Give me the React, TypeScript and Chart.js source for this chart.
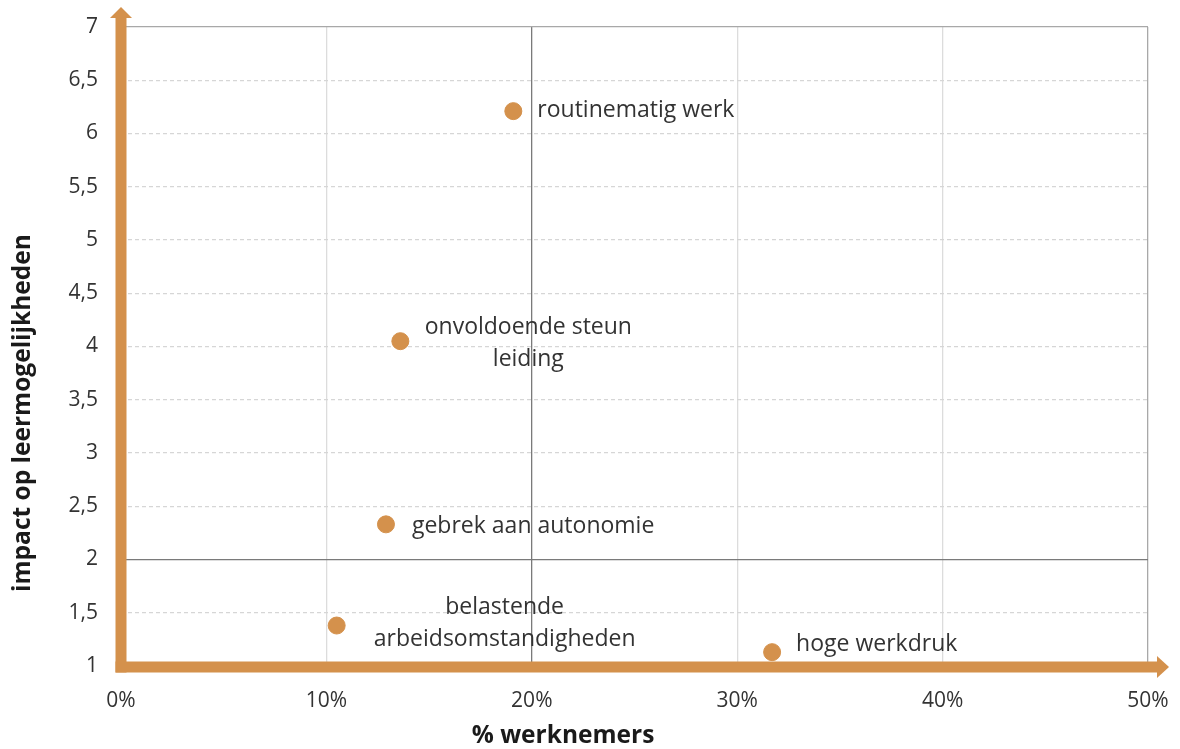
import React, { useEffect, useRef } from "react";
import { Chart, registerables } from "chart.js";

Chart.register(...registerables);

const labels: string[][] = [
  ["routinematig werk"],
  ["onvoldoende steun", "leiding"],
  ["gebrek aan autonomie"],
  ["belastende", "arbeidsomstandigheden"],
  ["hoge werkdruk"],
];
const xValues = [19.1, 13.6, 12.9, 10.5, 31.7];
const yValues = [6.21, 4.05, 2.33, 1.38, 1.13];

const xTicks = [0, 10, 20, 30, 40, 50];
const yTicks = [1, 1.5, 2, 2.5, 3, 3.5, 4, 4.5, 5, 5.5, 6, 6.5, 7];

const xTitle = "% werknemers";
const yTitle = "impact op leermogelijkheden";

// label placement (pixel offsets from point), style only
const labelStyle = [
  { dx: 24, dy: -1, align: "left" },
  { dx: 128, dy: -14, align: "center" },
  { dx: 26, dy: 2, align: "left" },
  { dx: 168, dy: -18, align: "center" },
  { dx: 24, dy: -8, align: "left" },
];

const ORANGE = "#D4914C";
const FONT = "'Open Sans', 'Noto Sans', sans-serif";

const axesPlugin = {
  id: "orangeAxes",
  afterDatasetsDraw(chart: any) {
    const { ctx, chartArea } = chart;
    const { left, bottom, top, right } = chartArea;
    const w = 11;
    ctx.save();
    ctx.fillStyle = ORANGE;
    // vertical shaft
    ctx.fillRect(left - w / 2, top - 10, w, bottom - top + 10 + w / 2 + 1);
    // vertical arrow head
    ctx.beginPath();
    ctx.moveTo(left - 11, top - 9);
    ctx.lineTo(left, top - 20);
    ctx.lineTo(left + 11, top - 9);
    ctx.closePath();
    ctx.fill();
    // horizontal shaft
    ctx.fillRect(left - w / 2, bottom - w / 2 + 1, right - left + 12 + w / 2, w);
    ctx.beginPath();
    ctx.moveTo(right + 9, bottom - 10);
    ctx.lineTo(right + 21, bottom + 1);
    ctx.lineTo(right + 9, bottom + 12);
    ctx.closePath();
    ctx.fill();
    ctx.restore();
  },
};

const labelPlugin = {
  id: "pointLabels",
  afterDatasetsDraw(chart: any) {
    const { ctx } = chart;
    const meta = chart.getDatasetMeta(0);
    ctx.save();
    ctx.font = `23px ${FONT}`;
    ctx.fillStyle = "#333333";
    ctx.textBaseline = "middle";
    meta.data.forEach((pt: any, i: number) => {
      const st = labelStyle[i];
      ctx.textAlign = st.align;
      labels[i].forEach((line, j) => {
        ctx.fillText(line, pt.x + st.dx, pt.y + st.dy + j * 32);
      });
    });
    // axis titles
    ctx.fillStyle = "#1a1a1a";
    ctx.font = `bold 24.5px ${FONT}`;
    ctx.textAlign = "center";
    ctx.fillText(xTitle, 563, 736);
    ctx.translate(23, 413);
    ctx.rotate(-Math.PI / 2);
    ctx.fillText(yTitle, 0, 0);
    ctx.restore();
  },
};

const zeroPad = (s: any) => {
  s.paddingTop = 0;
  s.paddingBottom = 0;
  s.paddingLeft = 0;
  s.paddingRight = 0;
};

export default function App() {
  const ref = useRef<HTMLCanvasElement>(null);
  useEffect(() => {
    document.body.style.margin = "0";
    const chart = new Chart(ref.current!, {
      type: "scatter",
      data: {
        datasets: [
          {
            data: xValues.map((x, i) => ({ x, y: yValues[i] })),
            backgroundColor: ORANGE,
            borderColor: ORANGE,
            pointRadius: 8.5,
            pointHoverRadius: 8.5,
          },
        ],
      },
      options: {
        animation: false,
        responsive: true,
        maintainAspectRatio: false,
        layout: { autoPadding: false, padding: { top: 27, right: 32, left: 0, bottom: 0 } },
        plugins: { legend: { display: false }, tooltip: { enabled: false } },
        scales: {
          x: {
            type: "linear",
            min: 0,
            max: 50,
            afterBuildTicks: (s: any) => {
              s.ticks = xTicks.map((v) => ({ value: v }));
            },
            afterFit: (s: any) => {
              s.height = 83;
              zeroPad(s);
            },
            ticks: {
              padding: 22,
              color: "#333",
              font: { family: FONT, size: 21 },
              callback: (v: any) => `${v}%`,
              maxRotation: 0,
            },
            grid: {
              drawTicks: false,
              color: (c: any) =>
                c.tick && c.tick.value === 20 ? "#7a7a7a" : c.tick && c.tick.value === 50 ? "#a8a8a8" : "#dcdcdc",
              lineWidth: 1.3,
            },
            border: { display: false },
          },
          y: {
            type: "linear",
            min: 1,
            max: 7,
            afterBuildTicks: (s: any) => {
              s.ticks = yTicks.map((v) => ({ value: v }));
            },
            afterFit: (s: any) => {
              s.width = 121;
              zeroPad(s);
            },
            ticks: {
              padding: 23,
              color: "#333",
              font: { family: FONT, size: 21 },
              callback: (v: any) => String(v).replace(".", ","),
            },
            grid: {
              drawTicks: false,
              color: (c: any) =>
                c.tick && c.tick.value === 2 ? "#7a7a7a" : c.tick && c.tick.value === 7 ? "#a8a8a8" : "#d6d6d6",
              lineWidth: 1.3,
            },
            border: {
              display: false,
              dash: (c: any) => (c.tick && (c.tick.value === 2 || c.tick.value === 7) ? [] : [4, 3]),
            },
          },
        },
      },
      plugins: [axesPlugin, labelPlugin],
    } as any);
    return () => chart.destroy();
  }, []);
  return (
    <div style={{ width: 1180, height: 749, position: "relative" }}>
      <canvas ref={ref} />
    </div>
  );
}
